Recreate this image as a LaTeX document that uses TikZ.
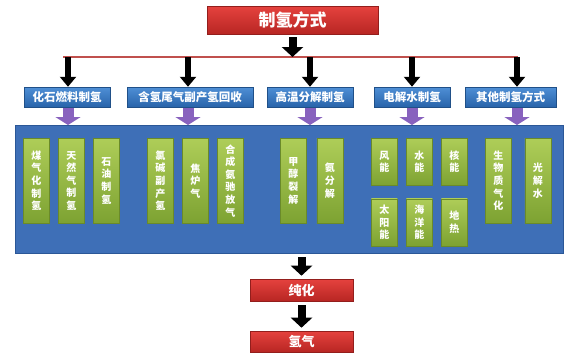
\documentclass[tikz,border=0pt]{standalone}
\usepackage{fontspec}
\newfontfamily\cjk{Noto Sans CJK SC}
\usepackage{xcolor}
\usepackage{tikz}
\usetikzlibrary{positioning, arrows.meta}
\definecolor{hyRed}{HTML}{E5423E}
\definecolor{hyRedDark}{HTML}{B82623}
\definecolor{hyLine}{HTML}{C0504D}
\definecolor{hyBlue}{HTML}{4F8FD6}
\definecolor{hyBlueDark}{HTML}{2864AA}
\definecolor{hyPanel}{HTML}{3E6FB7}
\definecolor{hyPanelDark}{HTML}{2B5797}
\definecolor{hyGreen}{HTML}{AECD58}
\definecolor{hyGreenDark}{HTML}{7DA232}
\definecolor{hyPurple}{HTML}{8862BE}
\tikzset{
  redbox/.style={
    rectangle, draw=hyRedDark!80!black, line width=0.6pt,
    top color=hyRed, bottom color=hyRedDark,
    text=white, inner sep=0pt,
    font=\cjk\bfseries\fontsize{13}{15}\selectfont
  },
  catbox/.style={
    rectangle, draw=hyBlueDark!80!black, line width=0.5pt,
    top color=hyBlue, bottom color=hyBlueDark,
    text=white, inner sep=0pt, minimum height=20pt,
    font=\cjk\bfseries\fontsize{11.5}{13}\selectfont
  },
  panel/.style={
    rectangle, draw=hyPanelDark, line width=1pt,
    fill=hyPanel, inner sep=0pt
  },
  leaf/.style={
    rectangle, draw=hyGreenDark!85!black, line width=0.5pt,
    top color=hyGreen, bottom color=hyGreenDark,
    text=white, inner sep=0pt,
    minimum width=26pt, minimum height=85pt,
    align=center,
    font=\cjk\bfseries\fontsize{10}{12.6}\selectfont
  },
  leafshort/.style={leaf, minimum height=47pt},
  blackarrow/.style={
    -{Triangle[length=10pt, width=16pt]},
    black, line width=6pt
  },
  bigarrow/.style={
    -{Triangle[length=10pt, width=21pt]},
    black, line width=8pt
  },
  purplearrow/.style={
    -{Triangle[length=8pt, width=25pt]},
    hyPurple, line width=11pt
  },
  busline/.style={hyLine, line width=1.8pt}
}
\begin{document}
\begin{tikzpicture}[x=1pt, y=-1pt, node distance=8.5pt]
  \useasboundingbox (0,0) rectangle (575,357);
  \node[redbox, minimum width=171pt, minimum height=28pt,
        font=\cjk\bfseries\fontsize{17}{19}\selectfont] (title) at (292.5,20) {制氢方式};
  \coordinate (bT) at (292.5,57);
  \coordinate (bL) at (63,57);
  \coordinate (bR) at (518,57);
  \coordinate (b1) at (68,57);
  \coordinate (b2) at (188,57);
  \coordinate (b3) at (310,57);
  \coordinate (b4) at (412,57);
  \coordinate (b5) at (517,57);
  \draw[busline] (bL) -- (bR);
  \draw[bigarrow, shorten <=3pt] (title) -- (bT);

  \node[catbox, minimum width=86pt] (fossil) at (67,97) {化石燃料制氢};
  \node[catbox, minimum width=126pt] (tailgas) at (190,97) {含氢尾气副产氢回收};
  \node[catbox, minimum width=86pt] (pyro) at (310,97) {高温分解制氢};
  \node[catbox, minimum width=76pt] (electro) at (412,97) {电解水制氢};
  \node[catbox, minimum width=91pt] (other) at (510.5,97) {其他制氢方式};
  \draw[blackarrow] (b1) -- (fossil.north -| b1);
  \draw[blackarrow] (b2) -- (tailgas.north -| b2);
  \draw[blackarrow] (b3) -- (pyro.north -| b3);
  \draw[blackarrow] (b4) -- (electro.north -| b4);
  \draw[blackarrow] (b5) -- (other.north -| b5);

  \node[panel, minimum width=548pt, minimum height=128pt, anchor=north west] (panel) at (15,125) {};
  \draw[purplearrow, shorten <=1pt] (fossil.south -| b1) -- (panel.north -| b1);
  \draw[purplearrow, shorten <=1pt] (tailgas.south -| b2) -- (panel.north -| b2);
  \draw[purplearrow, shorten <=1pt] (pyro.south -| b3) -- (panel.north -| b3);
  \draw[purplearrow, shorten <=1pt] (electro.south -| b4) -- (panel.north -| b4);
  \draw[purplearrow, shorten <=1pt] (other.south -| b5) -- (panel.north -| b5);

  \node[leaf, anchor=north west] (coal) at (23,138) {煤\\气\\化\\制\\氢};
  \node[leaf, right=of coal] (natgas) {天\\然\\气\\制\\氢};
  \node[leaf, right=of natgas] (oil) {石\\油\\制\\氢};

  \node[leaf, anchor=north west] (chlor) at (147,138) {氯\\碱\\副\\产\\氢};
  \node[leaf, right=of chlor] (coke) {焦\\炉\\气};
  \node[leaf, right=of coke] (ammo) {合\\成\\氨\\驰\\放\\气};

  \node[leaf, anchor=north west] (methanol) at (280,138) {甲\\醇\\裂\\解};
  \node[leaf, right=10pt of methanol] (ammdec) {氨\\分\\解};

  \node[leafshort, anchor=north west] (wind) at (371,138) {风\\能};
  \node[leafshort, right=of wind] (hydro) {水\\能};
  \node[leafshort, right=of hydro] (nuclear) {核\\能};
  \node[leafshort, below=13pt of wind] (solar) {太\\阳\\能};
  \node[leafshort, below=13pt of hydro] (ocean) {海\\洋\\能};
  \node[leafshort, below=13pt of nuclear] (geo) {地\\热};

  \node[leaf, anchor=north west] (biomass) at (485,138) {生\\物\\质\\气\\化};
  \node[leaf, right=13pt of biomass] (photo) {光\\解\\水};

  \node[redbox, minimum width=103pt, minimum height=22pt] (purify) at (301.5,290) {纯化};
  \node[redbox, minimum width=103pt, minimum height=21pt] (hydrogen) at (301.5,341.5) {氢气};
  \draw[bigarrow, shorten <=3pt, shorten >=3pt] (panel.south -| purify) -- (purify);
  \draw[bigarrow, shorten <=4pt, shorten >=3pt] (purify) -- (hydrogen);
\end{tikzpicture}
\end{document}
